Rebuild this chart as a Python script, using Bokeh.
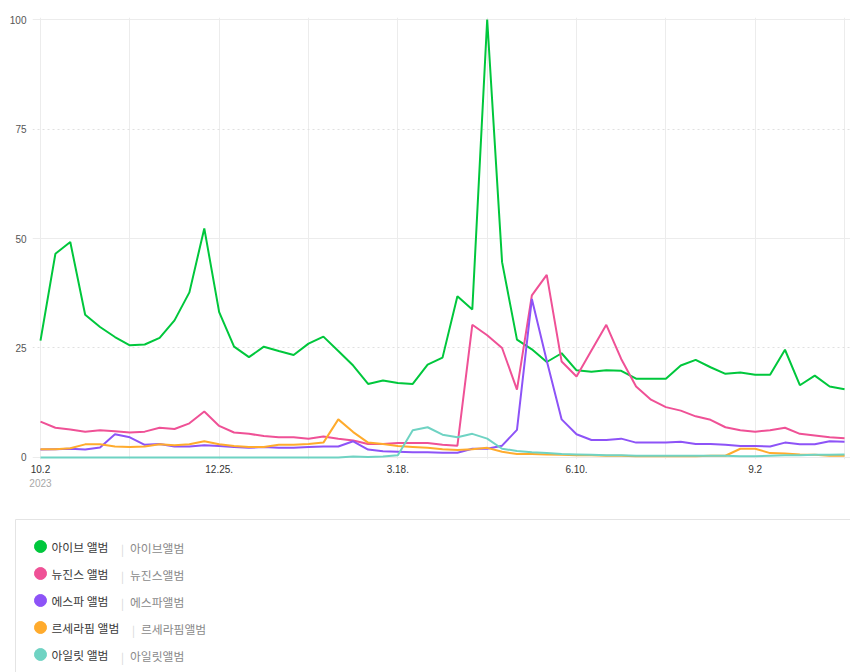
from bokeh.plotting import figure
from bokeh.models import Range1d, FixedTicker, Grid, LinearAxis
from bokeh.core.properties import value
from bokeh.embed import file_html
from bokeh.resources import INLINE

# ---------------- data ----------------
weeks = list(range(55))  # weekly, 2023-10-02 .. 2024-10-14
tick_pos = [0, 12, 24, 36, 48]
tick_labels = ["10.2", "12.25.", "3.18.", "6.10.", "9.2"]
year_pos = [0]
year_labels = ["2023"]
grid_pos = list(range(0, 55, 6))

series_names = ["아이브 앨범", "뉴진스 앨범", "에스파 앨범", "르세라핌 앨범", "아일릿 앨범"]
series_terms = ["아이브앨범", "뉴진스앨범", "에스파앨범", "르세라핌앨범", "아일릿앨범"]
series_colors = ["#00c73c", "#ef5196", "#8d53f7", "#ffab2d", "#6fd3c3"]

ive = [26.7, 46.5, 49.2, 32.6, 29.8, 27.5, 25.6, 25.8, 27.3, 31.3,
       37.7, 52.3, 33.2, 25.3, 22.9, 25.3, 24.3, 23.4, 26.0, 27.6,
       24.3, 21.0, 16.8, 17.6, 17.0, 16.8, 21.2, 22.8, 36.8, 33.8,
       100.0, 44.6, 26.9, 24.7, 21.8, 23.8, 19.9, 19.6, 19.9, 19.8,
       18.0, 18.0, 18.0, 21.0, 22.3, 20.6, 19.1, 19.4, 18.9, 18.9,
       24.6, 16.5, 18.7, 16.2, 15.6]
newjeans = [8.2, 6.8, 6.4, 5.9, 6.2, 6.0, 5.7, 5.9, 6.8, 6.5,
            7.8, 10.5, 7.2, 5.7, 5.4, 4.9, 4.6, 4.6, 4.3, 4.8,
            4.3, 3.9, 3.1, 3.1, 3.3, 3.3, 3.3, 2.9, 2.7, 30.3,
            27.9, 25.0, 15.5, 37.0, 41.7, 21.9, 18.5, 24.4, 30.3, 22.5,
            16.2, 13.2, 11.5, 10.7, 9.4, 8.6, 6.9, 6.2, 5.9, 6.2,
            6.8, 5.4, 5.0, 4.6, 4.4]
aespa = [1.8, 1.9, 2.0, 1.8, 2.3, 5.3, 4.6, 2.9, 3.1, 2.5,
         2.5, 2.8, 2.6, 2.4, 2.2, 2.4, 2.2, 2.2, 2.4, 2.5,
         2.5, 3.7, 1.8, 1.4, 1.3, 1.2, 1.2, 1.1, 1.1, 2.0,
         2.0, 2.7, 6.3, 36.2, 22.1, 8.7, 5.3, 4.0, 4.0, 4.3,
         3.4, 3.4, 3.4, 3.6, 3.1, 3.1, 2.9, 2.6, 2.6, 2.5,
         3.4, 3.0, 3.0, 3.7, 3.6]
lesserafim = [1.9, 1.9, 2.1, 3.0, 3.0, 2.5, 2.4, 2.5, 3.0, 2.8,
              3.0, 3.7, 3.0, 2.6, 2.4, 2.4, 2.9, 2.9, 3.1, 3.4,
              8.7, 5.8, 3.4, 3.1, 2.6, 2.4, 2.2, 1.9, 1.7, 1.9,
              2.2, 1.3, 0.8, 0.8, 0.7, 0.6, 0.5, 0.5, 0.4, 0.4,
              0.3, 0.3, 0.3, 0.3, 0.3, 0.4, 0.4, 2.0, 2.0, 1.0,
              0.9, 0.7, 0.6, 0.4, 0.4]
illit = [0.0, 0.0, 0.0, 0.0, 0.0, 0.0, 0.0, 0.0, 0.0, 0.0,
         0.0, 0.0, 0.0, 0.0, 0.0, 0.0, 0.0, 0.0, 0.0, 0.0,
         0.0, 0.2, 0.1, 0.2, 0.5, 6.2, 6.9, 5.2, 4.6, 5.4,
         4.3, 2.0, 1.5, 1.2, 1.0, 0.8, 0.7, 0.6, 0.5, 0.5,
         0.4, 0.4, 0.4, 0.4, 0.4, 0.4, 0.4, 0.3, 0.3, 0.4,
         0.5, 0.5, 0.6, 0.6, 0.7]
series_values = [ive, newjeans, aespa, lesserafim, illit]

# ---------------- main chart ----------------
TICK_FONT = "Liberation Sans"
p = figure(width=850, height=508, output_backend="svg", toolbar_location=None,
           x_range=Range1d(-0.537, 54.40), y_range=Range1d(-0.46, 100.46),
           min_border_left=32, min_border_right=0, min_border_top=17, min_border_bottom=49)
p.outline_line_color = None
p.background_fill_color = "white"

for vals, col in zip(series_values, series_colors):
    p.line(weeks, vals, line_color=col, line_width=2)

# secondary bottom axis carrying the year under the first tick
year_axis = LinearAxis(ticker=FixedTicker(ticks=year_pos),
                       major_label_overrides={t: l for t, l in zip(year_pos, year_labels)})
p.add_layout(year_axis, "below")

# axes
p.xaxis[0].ticker = FixedTicker(ticks=tick_pos)
p.xaxis[0].major_label_overrides = {t: l for t, l in zip(tick_pos, tick_labels)}
p.yaxis.ticker = FixedTicker(ticks=[0, 25, 50, 75, 100])
for ax in list(p.xaxis) + list(p.yaxis):
    ax.axis_line_color = None
    ax.major_tick_line_color = None
    ax.minor_tick_line_color = None
    ax.major_tick_out = 0
    ax.major_tick_in = 0
    ax.major_label_text_font = TICK_FONT
    ax.major_label_text_font_size = "10px"
    ax.major_label_text_color = "#333333"
p.yaxis.major_label_standoff = 6
p.yaxis.major_label_text_color = "#555555"
p.xaxis[0].major_label_standoff = 5
year_axis.major_label_standoff = 3
year_axis.major_label_text_color = "#a8a8a8"

# grids
p.xgrid.ticker = FixedTicker(ticks=grid_pos)
p.xgrid.grid_line_color = "#ececec"
p.xgrid.grid_line_width = 1
p.ygrid.ticker = FixedTicker(ticks=[0, 50, 100])
p.ygrid.grid_line_color = "#ececec"
p.ygrid.grid_line_width = 1
g2 = Grid(dimension=1, ticker=FixedTicker(ticks=[25, 75]), grid_line_color="#e0e0e0",
          grid_line_dash="2 3", grid_line_width=1)
p.add_layout(g2)

# ---------------- legend panel ----------------
LH = 164
lg = figure(width=850, height=LH, output_backend="svg", toolbar_location=None,
            x_range=Range1d(0, 850), y_range=Range1d(LH, 0),
            x_axis_type=None, y_axis_type=None, min_border=0)
lg.outline_line_color = None
lg.xgrid.visible = False
lg.ygrid.visible = False
lg.quad(left=[15], right=[1000], top=[11], bottom=[400], fill_color=None,
        line_color="#e4e4e4", line_width=1)

KFONT = value("Noto Sans CJK KR")
row_y = [38 + 27 * i for i in range(len(series_names))]
sep_x = [51 + 11 * (len(n) - 1) + 2.5 + 12 for n in series_names]
term_x = [s + 9 for s in sep_x]
lg.scatter([40] * len(row_y), row_y, size=12, color=series_colors)
lg.text([51] * len(row_y), row_y, text=series_names, text_font=KFONT,
        text_font_size="11.8px", text_color="#3a3a3a", text_baseline="middle")
lg.text(sep_x, [y + 2 for y in row_y], text=["|"] * len(row_y), text_font=KFONT,
        text_font_size="11px", text_color="#d6d6d6", text_baseline="middle")
lg.text(term_x, [y + 1 for y in row_y], text=series_terms, text_font=KFONT,
        text_font_size="11.8px", text_color="#8a8a8a", text_baseline="middle")

open("out.html", "w").write(file_html([p, lg], INLINE))
